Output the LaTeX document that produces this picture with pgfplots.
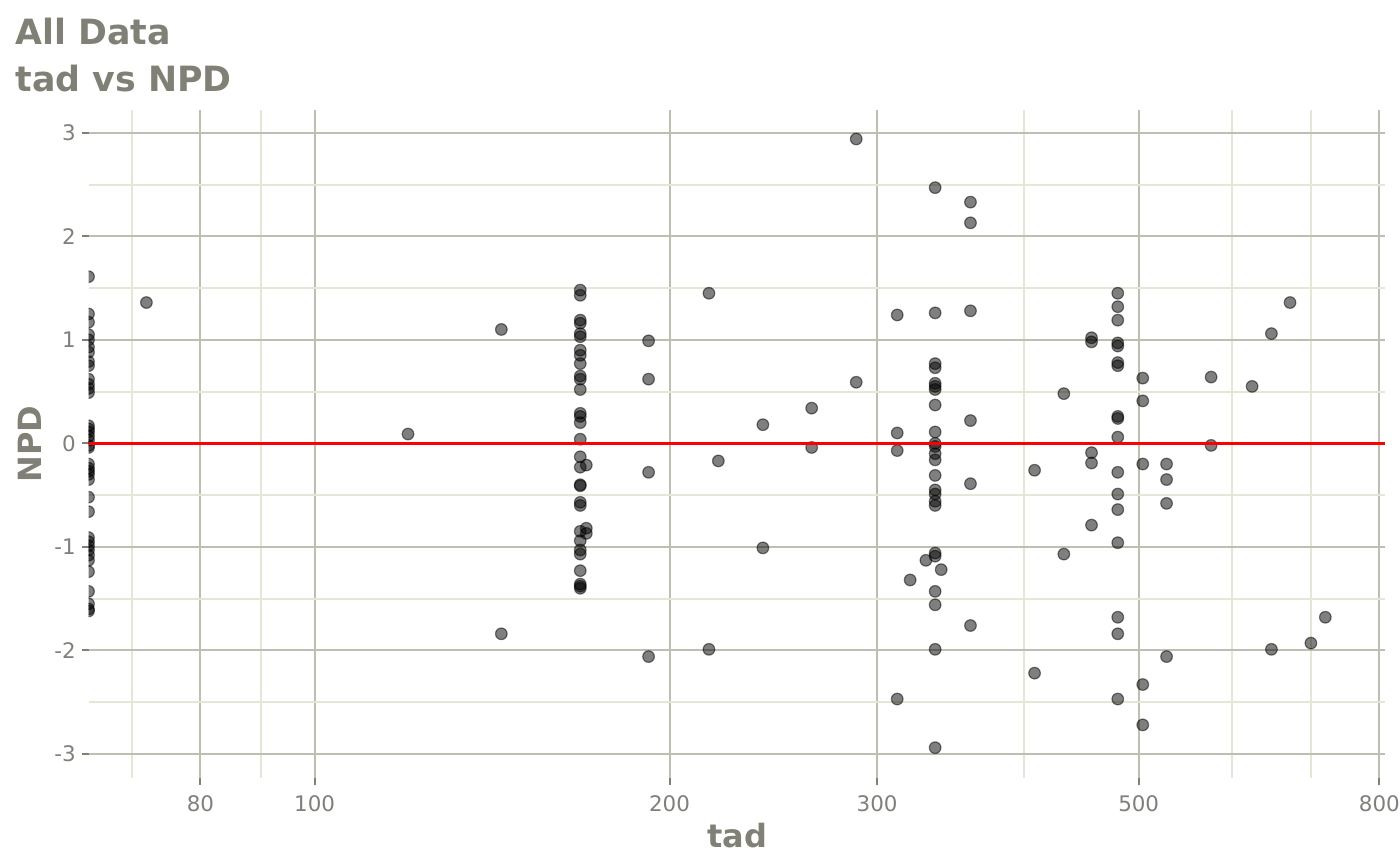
\documentclass[border=0pt]{standalone}
\usepackage{fontspec}
\setmainfont{DejaVu Sans}
\usepackage{pgfplots}
\pgfplotsset{compat=1.18}

\definecolor{ttl}{RGB}{128,128,118}
\definecolor{tlab}{RGB}{128,128,122}
\definecolor{tickc}{RGB}{128,128,120}
\definecolor{majg}{RGB}{190,190,178}
\definecolor{ming}{RGB}{229,230,214}

\begin{document}
\begin{tikzpicture}
\path[use as bounding box] (-44.25bp,-43.65bp) rectangle (655.75bp,388.85bp);
\begin{axis}[
  at={(0,0)}, anchor=south west,
  scale only axis, width=648.25bp, height=333.85bp,
  xmode=log, xmin=64.3, xmax=809, ymin=-3.23, ymax=3.22,
  axis line style={draw=none},
  xtick={80,100,200,300,500,800},
  xticklabels={80,100,200,300,500,800},
  minor xtick={70,90,400,600,700},
  ytick={-3,-2,-1,0,1,2,3},
  yticklabels={-3,-2,-1,0,1,2,3},
  minor ytick={-2.5,-1.5,-0.5,0.5,1.5,2.5},
  xtick pos=bottom, ytick pos=left, tick align=outside,
  major tick length=3.5bp, minor tick length=0pt,
  tick style={draw=tickc, line width=1bp},
  grid=both,
  major grid style={draw=majg, line width=1bp},
  minor grid style={draw=ming, line width=1bp},
  ticklabel style={font=\fontsize{10.7bp}{12bp}\selectfont, text=tlab},
  xticklabel style={yshift=-2bp},
  yticklabel style={xshift=0.6bp},
  clip marker paths=true,
]
% NPD against tad
\addplot[only marks, mark=*, mark size=2.9bp,
  mark options={draw=black, fill=black, opacity=0.5, line width=0.6bp}]
table {
x y
64.3 1.61
64.3 1.25
64.3 1.17
64.3 1.05
64.3 1.00
64.3 0.93
64.3 0.88
64.3 0.79
64.3 0.75
64.3 0.62
64.3 0.57
64.3 0.53
64.3 0.49
64.3 0.17
64.3 0.14
64.3 0.11
64.3 0.07
64.3 0.03
64.3 -0.02
64.3 -0.04
64.3 -0.20
64.3 -0.24
64.3 -0.27
64.3 -0.30
64.3 -0.35
64.3 -0.52
64.3 -0.66
64.3 -0.91
64.3 -0.95
64.3 -0.99
64.3 -1.03
64.3 -1.08
64.3 -1.13
64.3 -1.24
64.3 -1.43
64.3 -1.55
64.3 -1.60
64.3 -1.62
72 1.36
120 0.09
144 1.10
144 -1.84
168 1.48
168 1.43
168 1.19
168 1.16
168 1.06
168 1.03
168 0.90
168 0.85
168 0.77
168 0.65
168 0.62
168 0.52
168 0.29
168 0.26
168 0.20
168 0.04
168 -0.13
168 -0.23
168 -0.41
168 -0.40
168 -0.57
168 -0.60
168 -0.85
168 -0.94
168 -1.03
168 -1.07
168 -1.23
168 -1.36
168 -1.38
168 -1.40
170 -0.21
170 -0.82
170 -0.87
192 0.99
192 0.62
192 -0.28
192 -2.06
216 1.45
216 -1.99
220 -0.17
240 0.18
240 -1.01
264 0.34
264 -0.04
288 2.94
288 0.59
312 1.24
312 0.10
312 -0.07
312 -2.47
320 -1.32
330 -1.13
336 2.47
336 1.26
336 0.77
336 0.73
336 0.58
336 0.55
336 0.52
336 0.37
336 0.11
336 0.00
336 -0.03
336 -0.10
336 -0.16
336 -0.31
336 -0.45
336 -0.49
336 -0.56
336 -0.60
336 -1.06
336 -1.09
336 -1.43
336 -1.56
336 -1.99
336 -2.94
340 -1.22
360 2.33
360 2.13
360 1.28
360 0.22
360 -0.39
360 -1.76
408 -0.26
408 -2.22
432 0.48
432 -1.07
456 1.02
456 0.98
456 -0.09
456 -0.19
456 -0.79
480 1.45
480 1.32
480 1.19
480 0.97
480 0.94
480 0.78
480 0.75
480 0.26
480 0.24
480 0.06
480 -0.28
480 -0.49
480 -0.64
480 -0.96
480 -1.68
480 -1.84
480 -2.47
504 0.63
504 0.41
504 -0.20
504 -2.33
504 -2.72
528 -0.20
528 -0.35
528 -0.58
528 -2.06
576 0.64
576 -0.02
624 0.55
648 1.06
648 -1.99
672 1.36
700 -1.93
720 -1.68
};
\addplot[red, line width=1.3bp, forget plot] coordinates {(64.3,0) (809,0)};
\end{axis}
\node[anchor=base west, inner sep=0, text=ttl,
  font=\bfseries\fontsize{17.4bp}{20bp}\selectfont] at (-36.75bp,366.7bp) {All Data};
\node[anchor=base west, inner sep=0, text=ttl,
  font=\bfseries\fontsize{17.4bp}{20bp}\selectfont] at (-36.75bp,343bp) {tad vs NPD};
\node[anchor=base, inner sep=0, text=ttl,
  font=\bfseries\fontsize{16bp}{19bp}\selectfont] at (324.25bp,-34.65bp) {tad};
\node[anchor=base, rotate=90, inner sep=0, text=ttl,
  font=\bfseries\fontsize{16bp}{19bp}\selectfont] at (-23.4bp,166.9bp) {NPD};
\end{tikzpicture}
\end{document}
